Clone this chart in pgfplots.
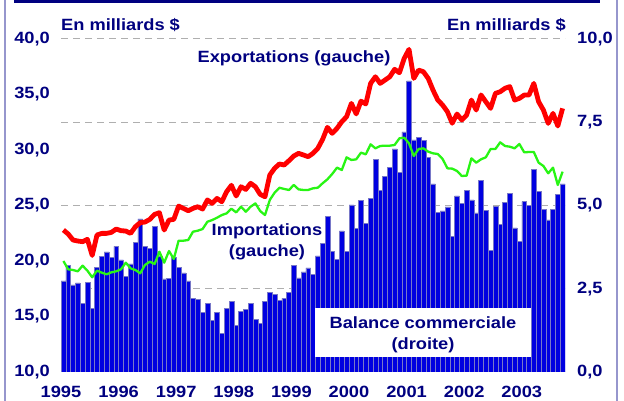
\documentclass[border=0pt]{standalone}
\usepackage{fontspec}
\setmainfont{Liberation Sans}[FakeStretch=1.12]
\usepackage{pgfplots}
\pgfplotsset{compat=1.18}
\usepackage{pgfplotstable}
\definecolor{navy}{RGB}{0,0,128}
\definecolor{barblue}{RGB}{0,0,224}
\definecolor{baredge}{RGB}{120,120,200}
\definecolor{gridgray}{RGB}{175,175,175}
\definecolor{framecol}{RGB}{150,150,205}
\definecolor{limegreen}{RGB}{40,245,20}
\definecolor{brightred}{RGB}{255,0,0}
\newcommand{\lbl}{\fontsize{16.3bp}{21bp}\selectfont\bfseries\color{navy}}
\pgfplotstableread{
k bal exp imp
0 2.74 22.79 20.00
1 3.21 22.43 19.25
2 2.62 21.89 19.19
3 2.68 21.80 19.07
4 2.07 21.74 19.58
5 2.69 21.95 19.13
6 1.91 20.50 18.53
7 3.15 22.34 19.13
8 3.48 22.49 18.95
9 3.61 22.49 18.80
10 3.44 22.58 18.98
11 3.77 22.88 19.07
12 3.37 22.73 19.25
13 2.88 22.70 19.85
14 3.25 22.49 19.34
15 3.90 23.09 19.19
16 4.60 23.45 18.89
17 3.78 23.51 19.64
18 3.71 23.75 19.94
19 4.38 24.20 19.73
20 3.49 24.35 20.84
21 2.80 22.79 19.85
22 2.82 23.69 20.90
23 3.44 23.75 20.18
24 3.14 24.95 21.83
25 2.98 24.74 21.83
26 2.74 24.53 21.89
27 2.21 24.74 22.64
28 2.19 24.89 22.73
29 1.79 24.68 22.88
30 2.05 25.50 23.54
31 1.56 25.19 23.69
32 1.80 25.64 23.90
33 1.16 25.34 24.14
34 1.91 26.24 24.29
35 2.13 26.82 24.71
36 1.41 25.86 24.38
37 1.83 26.69 24.89
38 1.87 26.45 24.44
39 2.05 27.00 24.89
40 1.59 26.69 25.19
41 1.47 26.00 24.50
42 2.11 25.79 24.14
43 2.38 27.75 25.50
44 2.32 28.35 26.15
45 2.16 28.74 26.60
46 2.21 28.65 26.49
47 2.40 29.04 26.40
48 3.21 29.46 26.85
49 2.83 29.70 26.45
50 3.01 29.55 26.40
51 3.13 29.40 26.40
52 2.93 29.70 26.55
53 3.49 30.15 26.60
54 3.86 30.96 27.00
55 4.68 32.04 27.36
56 3.63 31.50 27.84
57 3.39 31.95 28.41
58 4.24 32.55 28.20
59 3.63 33.00 29.34
60 5.02 34.20 29.10
61 4.31 33.25 29.16
62 5.16 34.40 29.76
63 4.47 34.15 29.61
64 5.21 36.00 30.51
65 6.38 36.60 30.15
66 5.45 36.00 30.36
67 5.88 36.30 30.39
68 6.14 36.60 30.39
69 6.70 37.27 30.45
70 6.00 36.96 31.05
71 7.21 38.25 31.11
72 8.74 39.07 30.60
73 6.97 36.45 29.46
74 7.05 37.20 30.09
75 6.95 37.05 30.15
76 6.45 36.45 29.85
77 5.65 35.40 29.70
78 4.80 34.50 29.64
79 4.84 34.05 29.19
80 4.96 33.45 28.35
81 4.08 32.41 28.32
82 5.29 33.24 28.11
83 5.06 32.70 27.66
84 5.45 33.15 27.69
85 5.17 34.50 29.25
86 4.78 33.60 28.86
87 5.75 34.96 29.16
88 4.86 34.35 29.34
89 3.66 33.75 30.09
90 4.98 35.10 30.09
91 4.44 35.25 30.69
92 5.10 35.56 30.36
93 5.37 35.71 30.30
94 4.33 34.50 30.15
95 3.93 34.65 30.54
96 5.12 34.95 29.79
97 5.00 34.95 29.82
98 6.09 36.00 29.82
99 5.43 34.35 28.86
100 4.89 33.60 28.56
101 4.57 32.40 27.90
102 4.89 33.30 28.41
103 5.34 32.16 26.85
104 5.65 33.75 28.05
}\data
\begin{document}
\begin{tikzpicture}
\useasboundingbox (-61bp,-29bp) rectangle (563bp,372bp);
% bars, right axis
\begin{axis}[
  at={(0,0)}, anchor=south west, scale only axis,
  width=504bp, height=333bp,
  xmin=-0.5, xmax=104.5, ymin=0, ymax=10,
  axis line style={draw=none}, major tick length=0pt,
  xtick={-0.5,11.5,23.5,35.5,47.5,59.5,71.5,83.5,95.5},
  xticklabels={1995,1996,1997,1998,1999,2000,2001,2002,2003},
  xticklabel style={font=\lbl, anchor=north, inner sep=0pt, yshift=-14bp},
  ytick={0,2.5,5,7.5,10},
  yticklabels={{0,0},{2,5},{5,0},{7,5},{10,0}},
  yticklabel pos=right,
  yticklabel style={font=\lbl, anchor=west, inner sep=0pt, xshift=12bp},
  ymajorgrids, grid style={gridgray, line width=1bp, dash pattern=on 7bp off 5bp},
]
\addplot[ybar, bar width=1, bar shift=0pt, fill=barblue, draw=baredge, line width=0.5bp]
  table[x=k, y=bal]{\data};
\end{axis}
% lines, left axis
\begin{axis}[
  at={(0,0)}, anchor=south west, scale only axis,
  width=504bp, height=333bp,
  xmin=-0.5, xmax=104.5, ymin=10, ymax=40,
  axis line style={draw=none}, major tick length=0pt,
  xtick=\empty,
  ytick={10,15,20,25,30,35,40},
  yticklabels={{10,0},{15,0},{20,0},{25,0},{30,0},{35,0},{40,0}},
  yticklabel style={font=\lbl, anchor=east, inner sep=0pt, xshift=-11bp},
  clip=false,
]
\addplot[limegreen, line width=2.3bp, line join=round] table[x=k, y=imp]{\data};
\addplot[brightred, line width=4.8bp, line join=round] table[x=k, y=exp]{\data};
\end{axis}
% annotations
\node[font=\lbl] at (233bp,314bp) {Exportations (gauche)};
\node[font=\lbl, align=center] at (206bp,130bp) {Importations\\(gauche)};
\node[fill=white, minimum width=216bp, minimum height=49bp, inner sep=0pt] at (362bp,39.5bp) {};
\node[font=\lbl, align=center] at (362bp,37.5bp) {Balance commerciale\\(droite)};
\node[font=\lbl, anchor=west, inner sep=0pt] at (0bp,347bp) {En milliards \$};
\node[font=\lbl, anchor=east, inner sep=0pt] at (505bp,347bp) {En milliards \$};
% slide frame
\draw[navy, line width=3bp] (-47bp,370.5bp) -- (539bp,370.5bp);
\draw[framecol, line width=1.5bp] (-56bp,372bp) -- (-56bp,-29bp);
\draw[framecol, line width=1.5bp] (556bp,372bp) -- (556bp,-29bp);
\end{tikzpicture}
\end{document}
